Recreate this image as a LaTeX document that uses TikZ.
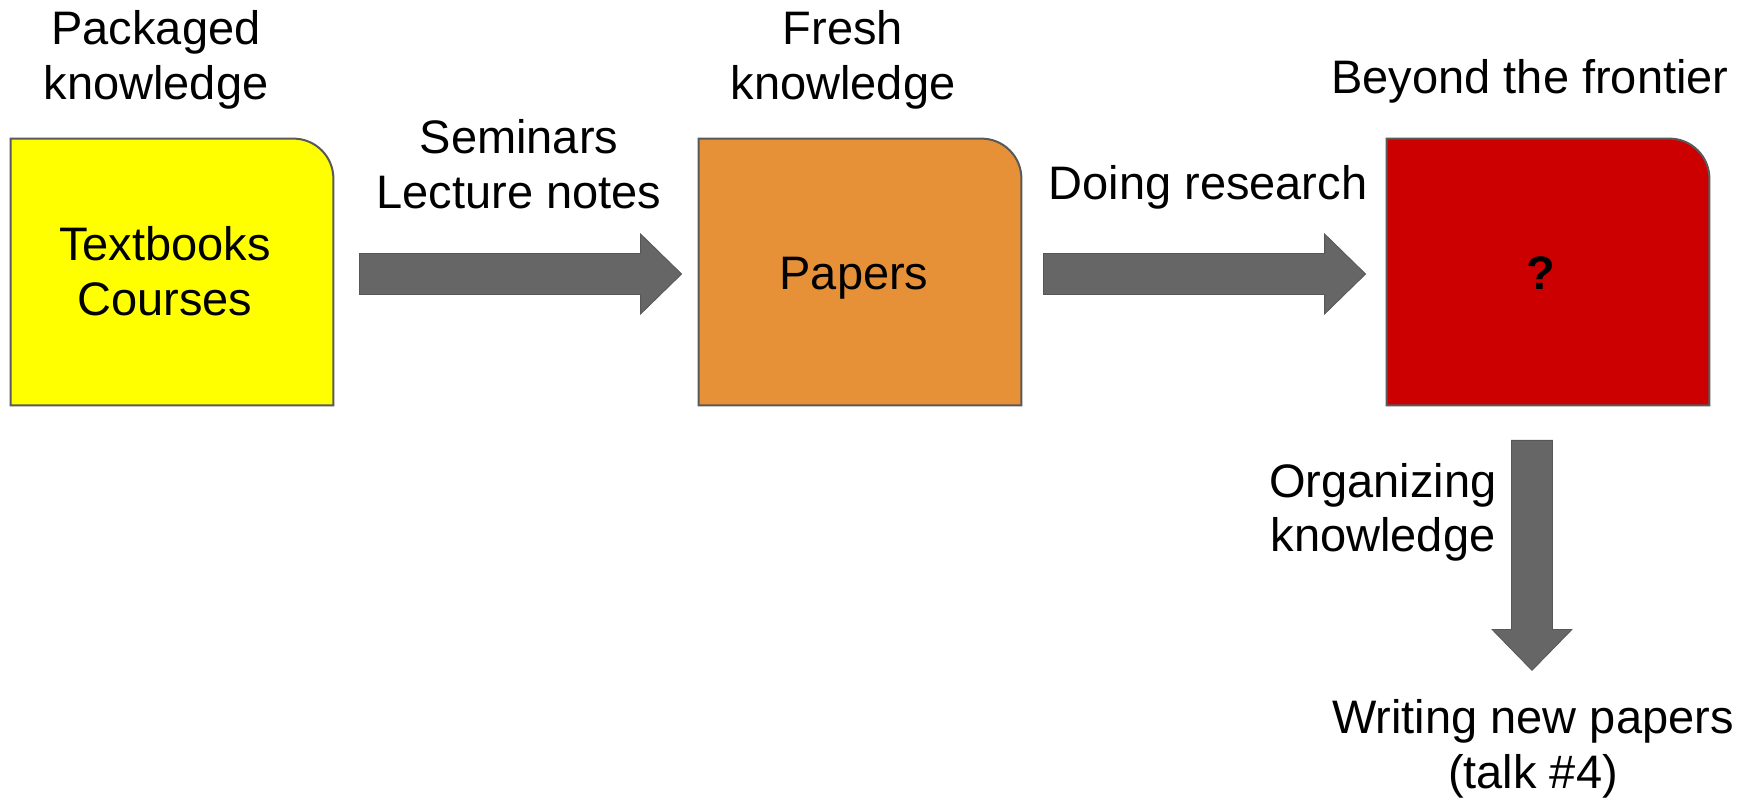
\documentclass[tikz,border=0pt]{standalone}
\usepackage{fontspec}
\setmainfont{Liberation Sans}
\usetikzlibrary{calc}
\definecolor{boxyellow}{HTML}{FFFF00}
\definecolor{boxorange}{HTML}{E69138}
\definecolor{boxred}{HTML}{CC0000}
\definecolor{arrowgrey}{HTML}{666666}
\definecolor{edgegrey}{HTML}{595959}
\newcommand\slidebox[2]{%
  \filldraw[boxedge, fill=#2] (#1.south west) -- (#1.north west)
    -- ($(#1.north east)+(-40,0)$) arc[start angle=90, end angle=0, radius=20pt]
    -- (#1.south east) -- cycle;}
% horizontal block arrow: #1 start (shaft middle), #2 tip
\newcommand\hblockarrow[2]{%
  \filldraw[blockarrow] ($(#1)+(0,20.5)$) -- ($(#2)+(-41,20.5)$) -- ($(#2)+(-41,40)$)
    -- (#2) -- ($(#2)+(-41,-40)$) -- ($(#2)+(-41,-20.5)$) -- ($(#1)+(0,-20.5)$) -- cycle;}
% vertical (downward) block arrow: #1 start, #2 tip
\newcommand\vblockarrow[2]{%
  \filldraw[blockarrow] ($(#1)+(-20.5,0)$) -- ($(#2)+(-20.5,41)$) -- ($(#2)+(-40,41)$)
    -- (#2) -- ($(#2)+(40,41)$) -- ($(#2)+(20.5,41)$) -- ($(#1)+(20.5,0)$) -- cycle;}
\begin{document}
\begin{tikzpicture}[x=0.5pt,y=0.5pt,
  lbl/.style={font=\fontsize{23.5}{27.5}\selectfont, align=center, inner sep=0pt, anchor=base},
  boxnode/.style={minimum width=161pt, minimum height=133pt, inner sep=0pt, draw=none},
  boxedge/.style={draw=edgegrey, line width=1pt},
  blockarrow/.style={fill=arrowgrey, draw=arrowgrey!85!black, line width=0.4pt}
]
\useasboundingbox (0,0) rectangle (1758,799);

% boxes
\node[boxnode] (yb) at (172,527) {};
\node[boxnode] (ob) at (860,527) {};
\node[boxnode] (rb) at (1548,527) {};
\slidebox{yb}{boxyellow}
\slidebox{ob}{boxorange}
\slidebox{rb}{boxred}

% texts (anchor base = baseline of the last line)
\node[lbl] (pk) at (156,699) {Packaged\\knowledge};
\node[lbl] (fk) at (843,699) {Fresh\\knowledge};
\node[lbl] (bf) at (1530,705) {Beyond the frontier};
\node[lbl] (sl) at (519,590) {Seminars\\Lecture notes};
\node[lbl] (dr) at (1208,599) {Doing research};
\node[lbl] (tc) at (165,483) {Textbooks\\Courses};
\node[lbl] (pp) at (854,509) {Papers};
\node[lbl, font=\fontsize{23.5}{27.5}\selectfont\bfseries] (qm) at (1541,509) {?};
\node[lbl] (ok) at (1383,247) {Organizing\\knowledge};
\node[lbl] (wr) at (1533,11) {Writing new papers\\(talk \#4)};

% connectors
\coordinate (a1s) at ($(yb.east)+(26,-2)$);
\coordinate (a1t) at ($(ob.west)+(-17,-2)$);
\hblockarrow{a1s}{a1t}
\coordinate (a2s) at ($(ob.east)+(22,-2)$);
\coordinate (a2t) at ($(rb.west)+(-21,-2)$);
\hblockarrow{a2s}{a2t}
\coordinate (a3s) at ($(rb.south)+(-16,-35)$);
\coordinate (a3t) at ($(rb.south)+(-16,-265)$);
\vblockarrow{a3s}{a3t}
\end{tikzpicture}
\end{document}
